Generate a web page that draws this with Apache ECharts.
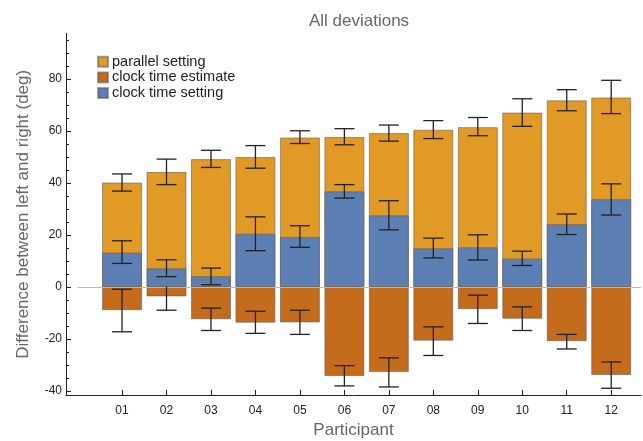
<!DOCTYPE html>
<html>
<head>
<meta charset="utf-8">
<script src="https://cdn.jsdelivr.net/npm/echarts@6/dist/echarts.min.js"></script>
<style>html,body{margin:0;padding:0;background:#fff}#c{width:643px;height:441px}</style>
</head>
<body>
<div id="c"></div>
<script>
var participants = ['01','02','03','04','05','06','07','08','09','10','11','12'];
var parallel     = [40.2, 44.3, 49.2, 50.0, 57.5, 57.7, 59.2, 60.5, 61.5, 67.1, 71.8, 72.9];
var parallelLow  = [36.9, 39.4, 46.0, 45.7, 55.2, 54.7, 56.1, 57.1, 58.2, 61.8, 67.8, 66.7];
var parallelHigh = [43.5, 49.2, 52.6, 54.4, 60.1, 60.9, 62.3, 64.0, 65.2, 72.4, 75.9, 79.5];
var estimate     = [-8.9, -3.6, -12.4, -13.7, -13.6, -34.2, -32.7, -20.6, -8.5, -12.2, -20.8, -33.8];
var estimateLow  = [-17.2, -8.9, -16.7, -17.8, -18.2, -38.0, -38.4, -26.3, -14.0, -16.7, -23.8, -38.9];
var estimateHigh = [-0.8, 1.7, -8.1, -9.3, -8.9, -30.2, -27.2, -15.3, -3.1, -7.6, -18.2, -28.8];
var setting      = [13.3, 7.2, 4.2, 20.5, 19.3, 36.8, 27.6, 14.9, 15.3, 11.0, 24.2, 33.8];
var settingLow   = [9.1, 4.0, 0.9, 14.0, 15.3, 34.2, 22.0, 11.2, 10.4, 8.3, 20.2, 27.7];
var settingHigh  = [17.8, 10.5, 7.3, 27.0, 23.6, 39.4, 33.2, 18.8, 20.1, 13.8, 28.1, 39.7];
var yMajorTicks = [-40, -20, 0, 20, 40, 60, 80];
var yMinorTicks = [-35,-30,-25,-15,-10,-5,5,10,15,25,30,35,45,50,55,65,70,75,85,90,95];

var xs = participants.map(function(p, i){ return i + 1; });
function pairs(vals){ return vals.map(function(v, i){ return [xs[i], v]; }); }
function errData(lo, hi){ return lo.map(function(v, i){ return [xs[i], v, hi[i]]; }); }

var FONT = 'Liberation Sans, Arial, sans-serif';
var C_PAR = '#E09A25', C_EST = '#C56B1C', C_SET = '#5C7FB4';
var EDGE = 'rgba(90,90,90,0.55)';
var X_MIN = -0.26, X_MAX = 12.67;

function errSeries(name, data, z){
  return {
    type: 'custom', name: name + ' err', z: z, silent: true,
    data: data,
    encode: { x: 0, y: [1, 2] },
    renderItem: function(params, api){
      var x = api.value(0);
      var p1 = api.coord([x, api.value(1)]);
      var p2 = api.coord([x, api.value(2)]);
      var hw = 10;
      var st = { stroke: '#222', lineWidth: 1.3 };
      return { type: 'group', children: [
        { type: 'line', shape: { x1: p1[0], y1: p1[1], x2: p2[0], y2: p2[1] }, style: st },
        { type: 'line', shape: { x1: p1[0]-hw, y1: p1[1], x2: p1[0]+hw, y2: p1[1] }, style: st },
        { type: 'line', shape: { x1: p2[0]-hw, y1: p2[1], x2: p2[0]+hw, y2: p2[1] }, style: st }
      ]};
    }
  };
}

var chart = echarts.init(document.getElementById('c'), null, { renderer: 'canvas' });
var yBase = { type: 'value', min: -41.5, max: 97.5, splitLine: { show: false } };
chart.setOption({
  animation: false,
  textStyle: { fontFamily: FONT },
  title: {
    text: 'All deviations', left: 354, textAlign: 'center', top: 8,
    textStyle: { fontFamily: FONT, fontSize: 17, fontWeight: 'normal', color: '#666' }
  },
  legend: {
    orient: 'vertical', left: 92, top: 49,
    itemWidth: 10, itemHeight: 10, itemGap: 0,
    icon: 'rect',
    data: ['parallel setting', 'clock time estimate', 'clock time setting'],
    textStyle: { fontFamily: FONT, fontSize: 14.5, color: '#222', lineHeight: 15.6, padding: [0,0,0,-1] }
  },
  grid: { left: 66, right: 2, top: 33.5, bottom: 46, containLabel: false, outerBoundsMode: 'none' },
  xAxis: {
    type: 'value', min: X_MIN, max: X_MAX,
    splitLine: { show: false },
    axisLine: { onZero: false, lineStyle: { color: '#222', width: 1 } },
    axisTick: { inside: true, length: 5, customValues: xs, lineStyle: { color: '#222' } },
    axisLabel: { customValues: xs, formatter: function(v){ return participants[Math.round(v) - 1]; },
                 fontFamily: FONT, fontSize: 12, color: '#222', margin: 10 },
    name: 'Participant', nameLocation: 'middle', nameGap: 27,
    nameTextStyle: { fontFamily: FONT, fontSize: 17, color: '#666' }
  },
  yAxis: [
    Object.assign({}, yBase, {
      axisLine: { show: true, onZero: false, lineStyle: { color: '#222', width: 1 } },
      axisTick: { show: true, inside: true, length: 5, customValues: yMajorTicks, lineStyle: { color: '#222' } },
      axisLabel: { customValues: yMajorTicks, fontFamily: FONT, fontSize: 12, color: '#222', margin: 4 },
      name: 'Difference between left and right (deg)', nameLocation: 'middle', nameGap: 34,
      nameTextStyle: { fontFamily: FONT, fontSize: 17, color: '#666' }
    }),
    Object.assign({}, yBase, {
      position: 'left',
      axisLine: { show: false, onZero: false },
      axisTick: { show: true, inside: true, length: 3, customValues: yMinorTicks, lineStyle: { color: '#222' } },
      axisLabel: { show: false }
    })
  ],
  series: [
    { type: 'bar', name: 'parallel setting', z: 2, data: pairs(parallel), barWidth: 40, barGap: '-100%',
      itemStyle: { color: C_PAR, borderColor: EDGE, borderWidth: 1 },
      markLine: { silent: true, symbol: 'none', label: { show: false },
                  lineStyle: { color: '#bbb', width: 1, type: 'solid' },
                  data: [[{ coord: [0, 0] }, { coord: [X_MAX, 0] }]] } },
    errSeries('parallel setting', errData(parallelLow, parallelHigh), 3),
    { type: 'bar', name: 'clock time estimate', z: 4, data: pairs(estimate), barWidth: 40, barGap: '-100%',
      itemStyle: { color: C_EST, borderColor: EDGE, borderWidth: 1 } },
    errSeries('clock time estimate', errData(estimateLow, estimateHigh), 5),
    { type: 'bar', name: 'clock time setting', z: 6, data: pairs(setting), barWidth: 40, barGap: '-100%',
      itemStyle: { color: C_SET, borderColor: EDGE, borderWidth: 1 } },
    errSeries('clock time setting', errData(settingLow, settingHigh), 7)
  ]
});
</script>
</body>
</html>
